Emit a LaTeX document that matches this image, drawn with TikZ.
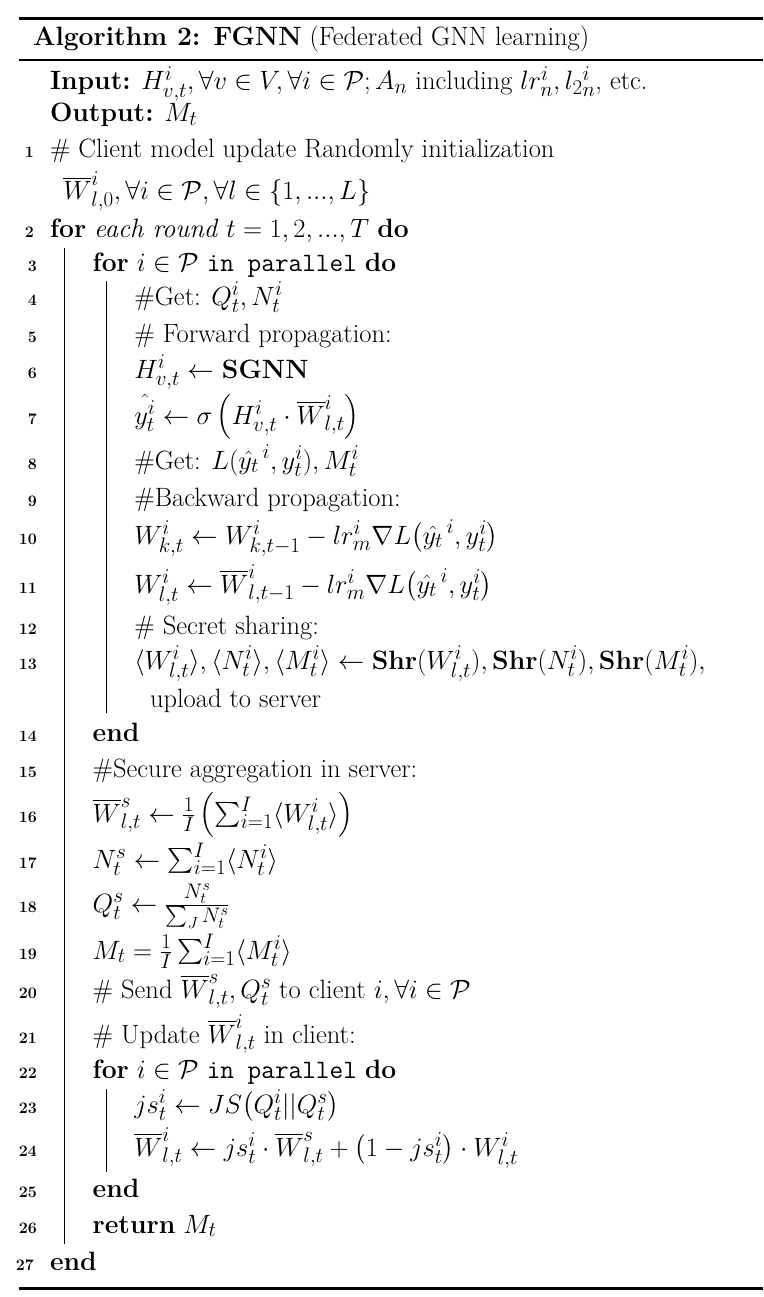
\RequirePackage{fix-cm}
\documentclass[tikz,border=0pt]{standalone}
\usepackage{amsmath}
\DeclareMathSizes{26.5}{26.5}{21}{16}
\tikzset{
  txt/.style={anchor=base west, inner sep=0pt, outer sep=0pt, font=\fontsize{26.5}{30}\selectfont},
  num/.style={anchor=base east, inner sep=0pt, outer sep=0pt, font=\fontsize{16}{19}\selectfont\bfseries},
  thickrule/.style={line width=3pt},
  midrule/.style={line width=2.2pt},
  blockline/.style={line width=1pt}
}
\newcommand{\Wb}{\overline{W}}
\newcommand{\Pc}{\mathcal{P}}
\newcommand{\yh}{\hat{y_t}}
\begin{document}
\begin{tikzpicture}[x=1pt,y=-1pt]
\useasboundingbox (0,0) rectangle (763,1297);
% rules
\draw[thickrule] (19,19) -- (763,19);
\draw[midrule] (19,59.7) -- (763,59.7);
\draw[thickrule] (19,1288.3) -- (763,1288.3);
% title
\node[txt] (title) at (33,46) {\textbf{Algorithm 2: FGNN} (Federated GNN learning)};
% header
\node[txt] (input) at (50,90) {\textbf{Input:} $H^{i}_{v,t}, \forall v \in V, \forall i \in \Pc; A_n$ including $lr^{i}_{n}, l_{2}{}^{i}_{n}$, etc.};
\node[txt] (output) at (50,122) {\textbf{Output:} $M_t$};
% lines
\node[num] (n1) at (34,158) {1};
\node[txt] (l1) at (50,158) {\# Client model update Randomly initialization};
\node[txt] (l1b) at (63.3,200) {$\Wb^{i}_{l,0}, \forall i \in \Pc, \forall l \in \{1, ..., L\}$};
\node[num] (n2) at (34,238) {2};
\node[txt] (l2) at (50,238) {\textbf{for} \textit{each round} $t = 1, 2, ..., T$ \textbf{do}};
\node[num] (n3) at (37,271) {3};
\node[txt] (l3) at (92.7,271) {\textbf{for} $i \in \Pc$ \texttt{in parallel} \textbf{do}};
\node[num] (n4) at (37,305) {4};
\node[txt] (l4) at (134.3,305) {\#Get: $Q^{i}_{t}, N^{i}_{t}$};
\node[num] (n5) at (37,342) {5};
\node[txt] (l5) at (134.3,342) {\# Forward propagation:};
\node[num] (n6) at (37,378) {6};
\node[txt] (l6) at (134.3,378) {$H^{i}_{v,t} \leftarrow$ \textbf{SGNN}};
\node[num] (n7) at (37,424) {7};
\node[txt] (l7) at (134.3,424) {$\hat{y^{i}_{t}} \leftarrow \sigma\left(H^{i}_{v,t} \cdot \Wb^{i}_{l,t}\right)$};
\node[num] (n8) at (37,469) {8};
\node[txt] (l8) at (134.3,469) {\#Get: $L(\yh^{\,i}, y^{i}_{t}), M^{i}_{t}$};
\node[num] (n9) at (37,506) {9};
\node[txt] (l9) at (134.3,506) {\#Backward propagation:};
\node[num] (n10) at (37,544) {10};
\node[txt] (l10) at (134.3,544) {$W^{i}_{k,t} \leftarrow W^{i}_{k,t-1} - lr^{i}_{m}\nabla L\bigl(\yh^{\,i}, y^{i}_{t}\bigr)$};
\node[num] (n11) at (37,593) {11};
\node[txt] (l11) at (134.3,593) {$W^{i}_{l,t} \leftarrow \Wb^{i}_{l,t-1} - lr^{i}_{m}\nabla L\bigl(\yh^{\,i}, y^{i}_{t}\bigr)$};
\node[num] (n12) at (37,634) {12};
\node[txt] (l12) at (134.3,634) {\# Secret sharing:};
\node[num] (n13) at (37,669) {13};
\node[txt] (l13) at (134.3,669) {$\langle W^{i}_{l,t}\rangle, \langle N^{i}_{t}\rangle, \langle M^{i}_{t}\rangle \leftarrow \textbf{Shr}(W^{i}_{l,t}), \textbf{Shr}(N^{i}_{t}), \textbf{Shr}(M^{i}_{t}),$};
\node[txt] (l13b) at (150,707) {upload to server};
\node[num] (n14) at (37,741) {14};
\node[txt] (l14) at (92.7,741) {\textbf{end}};
\node[num] (n15) at (37,777) {15};
\node[txt] (l15) at (92.7,777) {\#Secure aggregation in server:};
\node[num] (n16) at (37,822) {16};
\node[txt] (l16) at (92.7,822) {$\Wb^{s}_{l,t} \leftarrow \frac{1}{I}\left(\sum_{i=1}^{I}\langle W^{i}_{l,t}\rangle\right)$};
\node[num] (n17) at (37,868) {17};
\node[txt] (l17) at (92.7,868) {$N^{s}_{t} \leftarrow \sum_{i=1}^{I}\langle N^{i}_{t}\rangle$};
\node[num] (n18) at (37,912) {18};
\node[txt] (l18) at (92.7,912) {$Q^{s}_{t} \leftarrow \frac{N^{s}_{t}}{\sum_{J} N^{s}_{t}}$};
\node[num] (n19) at (37,959) {19};
\node[txt] (l19) at (92.7,959) {$M_t = \frac{1}{I}\sum_{i=1}^{I}\langle M^{i}_{t}\rangle$};
\node[num] (n20) at (37,998) {20};
\node[txt] (l20) at (92.7,998) {\# Send $\Wb^{s}_{l,t}, Q^{s}_{t}$ to client $i, \forall i \in \Pc$};
\node[num] (n21) at (37,1043) {21};
\node[txt] (l21) at (92.7,1043) {\# Update $\Wb^{i}_{l,t}$ in client:};
\node[num] (n22) at (37,1078) {22};
\node[txt] (l22) at (92.7,1078) {\textbf{for} $i \in \Pc$ \texttt{in parallel} \textbf{do}};
\node[num] (n23) at (37,1113) {23};
\node[txt] (l23) at (134.3,1113) {$js^{i}_{t} \leftarrow JS\bigl(Q^{i}_{t} || Q^{s}_{t}\bigr)$};
\node[num] (n24) at (37,1156) {24};
\node[txt] (l24) at (134.3,1156) {$\Wb^{i}_{l,t} \leftarrow js^{i}_{t} \cdot \Wb^{s}_{l,t} + \bigl(1 - js^{i}_{t}\bigr) \cdot W^{i}_{l,t}$};
\node[num] (n25) at (37,1197) {25};
\node[txt] (l25) at (92.7,1197) {\textbf{end}};
\node[num] (n26) at (37,1233) {26};
\node[txt] (l26) at (92.7,1233) {\textbf{return} $M_t$};
\node[num] (n27) at (34,1270) {27};
\node[txt] (l27) at (50,1270) {\textbf{end}};
% block lines
\coordinate (b1top) at (64.3,248);
\coordinate (b1bot) at (64.3,1244);
\coordinate (b2top) at (106.7,281);
\coordinate (b2bot) at (106.7,713);
\coordinate (b3top) at (106.7,1089);
\coordinate (b3bot) at (106.7,1172);
\draw[blockline] (b1top) -- (b1bot);
\draw[blockline] (b2top) -- (b2bot);
\draw[blockline] (b3top) -- (b3bot);
\end{tikzpicture}
\end{document}
